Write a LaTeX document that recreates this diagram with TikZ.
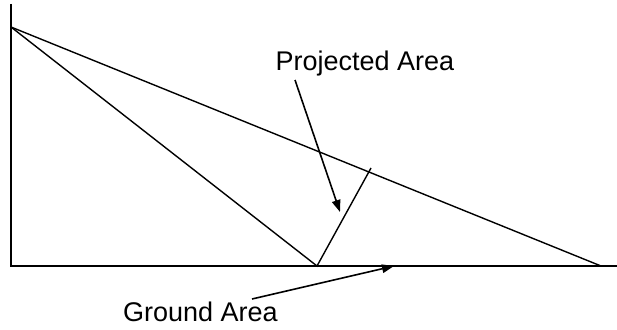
\documentclass[tikz,border=0pt]{standalone}
\usepackage{fontspec}
\setmainfont{Liberation Sans}
\usetikzlibrary{arrows.meta}
\begin{document}
\begin{tikzpicture}[x=1pt,y=-1pt,
  ln/.style={line width=1.4pt, line cap=butt},
  arr/.style={line width=1.6pt, -{Triangle[length=12pt,width=8.5pt]}},
  lbl/.style={font=\fontsize{27}{32}\selectfont, anchor=base, inner sep=0pt}]
\useasboundingbox (0,0) rectangle (617,329);
\coordinate (top) at (11,4);
\coordinate (origin) at (11,266);
\coordinate (xend) at (617,266);
\coordinate (apex) at (11,27);
\coordinate (far) at (601,266);
\coordinate (mid) at (317,266);
\coordinate (perp) at (371,168);
\coordinate (ptail) at (295,80);
\coordinate (ptip) at (340,212);
\coordinate (gtail) at (252,299);
\coordinate (gtip) at (394,266);
\draw[ln] (top) -- (origin) -- (xend);
\draw[ln] (apex) -- (far);
\draw[ln] (apex) -- (mid) -- (perp);
\node[lbl] (proj) at (365,70.5) {Projected Area};
\node[lbl] (ground) at (200.5,321) {Ground Area};
\draw[arr] (ptail) -- (ptip);
\draw[arr] (gtail) -- (gtip);
\end{tikzpicture}
\end{document}
